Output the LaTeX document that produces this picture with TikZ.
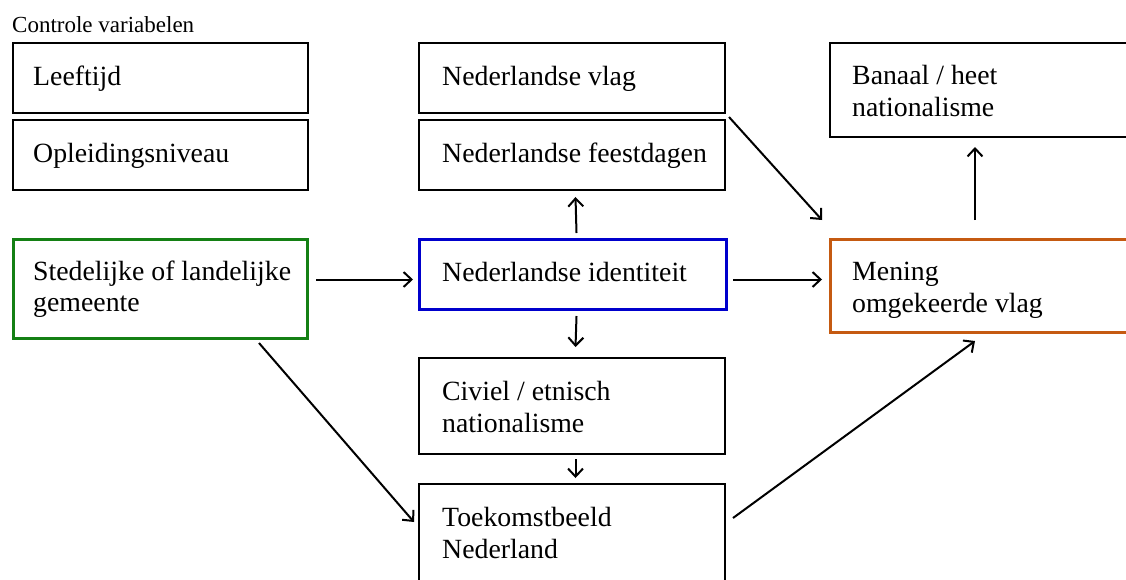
\documentclass[tikz,border=0pt]{standalone}
\usepackage{fontspec}
\setmainfont{Liberation Serif}
\usetikzlibrary{arrows.meta}
\definecolor{boxgreen}{RGB}{20,128,20}
\definecolor{boxblue}{RGB}{0,0,204}
\definecolor{boxorange}{RGB}{197,90,17}
\begin{document}
\begin{tikzpicture}[x=1pt,y=1pt,
  box/.style={draw=black, line width=2pt, rectangle, anchor=north west, inner sep=0pt},
  lbl/.style={anchor=base west, font=\fontsize{27.8}{31.5}\selectfont, align=left, inner sep=0pt},
  arr/.style={line width=2pt, -{Straight Barb[length=8pt,width=15pt,line width=2pt]}}]
\clip (0,0) rectangle (1126,-579);
\fill[white] (0,0) rectangle (1126,-579);
% title
\node[anchor=base west, inner sep=0pt, font=\fontsize{23}{27}\selectfont] (title) at (12,-32) {Controle variabelen};
% boxes
\node[box, minimum width=295pt, minimum height=70pt] (leeftijd) at (12,-42) {};
\node[box, minimum width=295pt, minimum height=70pt] (opleiding) at (12,-119) {};
\node[box, draw=boxgreen, line width=3pt, minimum width=294pt, minimum height=99pt] (sted) at (12,-238) {};
\node[box, minimum width=306pt, minimum height=70pt] (vlag) at (418,-42) {};
\node[box, minimum width=306pt, minimum height=70pt] (feest) at (418,-119) {};
\node[box, draw=boxblue, line width=3pt, minimum width=307pt, minimum height=70pt] (ident) at (418,-238) {};
\node[box, minimum width=306pt, minimum height=96pt] (civiel) at (418,-357) {};
\node[box, minimum width=306pt, minimum height=110pt] (toek) at (418,-483) {};
\node[box, minimum width=320pt, minimum height=94pt] (banaal) at (829,-42) {};
\node[box, draw=boxorange, line width=3pt, minimum width=320pt, minimum height=93pt] (mening) at (829,-238) {};
% labels
\node[lbl] (leeftijdT) at ([shift={(21,-43)}]leeftijd.north west) {Leeftijd};
\node[lbl] (opleidingT) at ([shift={(21,-43)}]opleiding.north west) {Opleidingsniveau};
\node[lbl] (stedT) at ([shift={(21,-73.5)}]sted.north west) {Stedelijke of landelijke\\gemeente};
\node[lbl] (vlagT) at ([shift={(24,-43)}]vlag.north west) {Nederlandse vlag};
\node[lbl] (feestT) at ([shift={(24,-43)}]feest.north west) {Nederlandse feestdagen};
\node[lbl] (identT) at ([shift={(24,-43)}]ident.north west) {Nederlandse identiteit};
\node[lbl] (civielT) at ([shift={(24,-75)}]civiel.north west) {Civiel / etnisch\\nationalisme};
\node[lbl] (toekT) at ([shift={(24,-75)}]toek.north west) {Toekomstbeeld\\Nederland};
\node[lbl] (banaalT) at ([shift={(23,-74)}]banaal.north west) {Banaal / heet\\nationalisme};
\node[lbl] (meningT) at ([shift={(23,-74)}]mening.north west) {Mening\\omgekeerde vlag};
% arrows
\draw[arr] ([shift={(7,9.5)}]sted.east) -- ([shift={(-5,-5)}]ident.west);
\draw[arr] ([shift={(5,-5)}]ident.east) -- ([shift={(-7,6.5)}]mening.west);
\draw[arr] ([shift={(3.5,5)}]ident.north) -- ([shift={(3.5,-6)}]feest.south);
\draw[arr] ([shift={(3.5,-5)}]ident.south) -- ([shift={(3.5,10)}]civiel.north);
\draw[arr] ([shift={(3.5,-4)}]civiel.south) -- ([shift={(3.5,5)}]toek.north);
\draw[arr] ([shift={(3,-3)}]vlag.south east) -- ([shift={(-7,18)}]mening.north west);
\draw[arr] ([shift={(146,18)}]mening.north west) -- ([shift={(146,-9)}]banaal.south west);
\draw[arr] ([shift={(247,-3)}]sted.south west) -- ([shift={(-4,-39)}]toek.north west);
\draw[arr] ([shift={(7,-35)}]toek.north east) -- ([shift={(146,-7)}]mening.south west);
\end{tikzpicture}
\end{document}
